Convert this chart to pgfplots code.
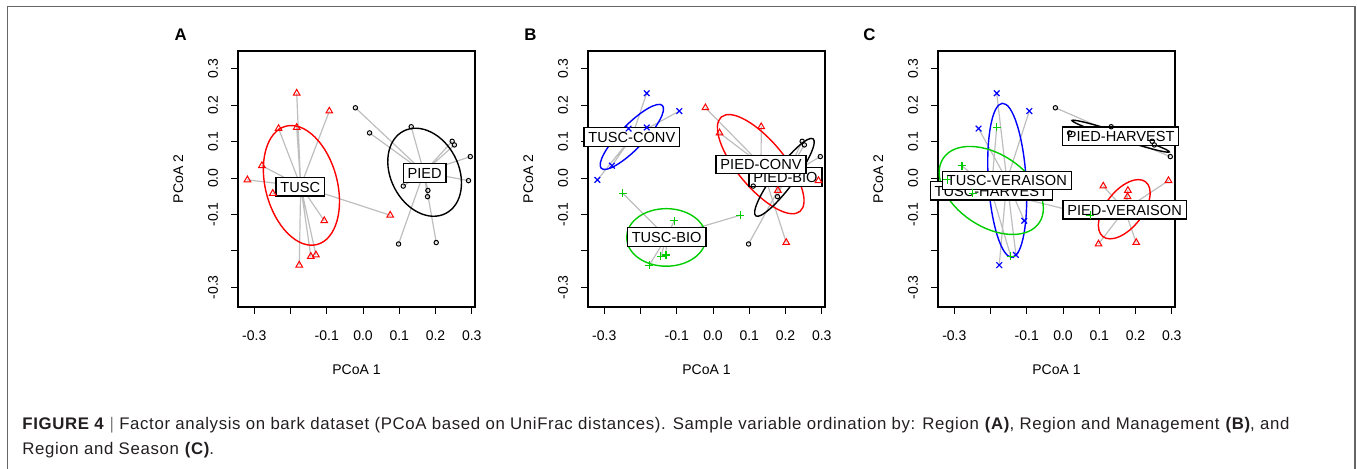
\documentclass[border=0pt]{standalone}
\usepackage{fontspec}
\setmainfont{Liberation Sans}
\newfontfamily\capfont[LetterSpace=3.8]{Liberation Sans}
\usepackage{pgfplots}
\pgfplotsset{compat=1.18}
\definecolor{sgray}{HTML}{BEBEBE}
\definecolor{rgreen}{RGB}{0,205,0}
\definecolor{capgray}{HTML}{231F20}
\pgfplotsset{
 pcoa/.style={
  scale only axis, width=118.5pt, height=128pt, anchor=south west, clip=false,
  xmin=-0.345, xmax=0.309, ymin=-0.354, ymax=0.349,
  xtick={-0.3,-0.2,-0.1,0,0.1,0.2,0.3}, xticklabels={-0.3,,-0.1,0.0,0.1,0.2,0.3},
  ytick={-0.3,-0.2,-0.1,0,0.1,0.2,0.3}, yticklabels={-0.3,,-0.1,0.0,0.1,0.2,0.3},
  xtick pos=left, ytick pos=left,
  tick align=outside, major tick length=3.5pt,
  axis line style={line width=0.65pt},
  every tick/.append style={line width=0.5pt, black},
  tick label style={font=\fontsize{7}{8}\selectfont, inner sep=0pt},
  xticklabel style={anchor=north},
  yticklabel style={rotate=90, anchor=south},
  xticklabel shift=8pt, yticklabel shift=6.35pt,
 },
 spider/.style={sgray, line width=0.6pt, line join=round, no markers},
 ell/.style={line width=0.7pt, smooth cycle, tension=0.68, no markers},
 tri/.style={only marks, red, mark=triangle, mark size=1.9pt, mark options={line width=0.5pt}},
 circ/.style={only marks, black, mark=o, mark size=1.1pt, mark options={line width=0.5pt}},
 crs/.style={only marks, blue, mark=x, mark size=2pt, mark options={line width=0.6pt}},
 pls/.style={only marks, rgreen, mark=+, mark size=2pt, mark options={line width=0.6pt}},
}
\tikzset{lbl/.style={draw=black, fill=white, line width=0.6pt, font=\fontsize{7.3}{8}\selectfont,
  inner xsep=2.2pt, inner ysep=2pt, text height=5.25pt, text depth=0pt}}
\begin{document}
\begin{tikzpicture}
\path[use as bounding box] (0,0) rectangle (678.5pt,234.5pt);
\draw[black!60, line width=0.75pt] (3.75pt,0) -- (3.75pt,231.25pt) -- (677.5pt,231.25pt) -- (677.5pt,0);

% ---------------- Panel A ----------------
\begin{axis}[pcoa, at={(119pt,81pt)}]
\addplot[spider] coordinates {(-0.172,-0.022) (-0.183,0.233) (-0.172,-0.022) (-0.093,0.184) (-0.172,-0.022) (-0.233,0.136) (-0.172,-0.022) (-0.183,0.139) (-0.172,-0.022) (-0.279,0.034) (-0.172,-0.022) (-0.319,-0.005) (-0.172,-0.022) (-0.249,-0.042) (-0.172,-0.022) (-0.107,-0.117) (-0.172,-0.022) (0.075,-0.102) (-0.172,-0.022) (-0.144,-0.215) (-0.172,-0.022) (-0.130,-0.211) (-0.172,-0.022) (-0.176,-0.239)};
\addplot[spider] coordinates {(0.168,0.016) (-0.021,0.193) (0.168,0.016) (0.018,0.124) (0.168,0.016) (0.133,0.141) (0.168,0.016) (0.246,0.101) (0.168,0.016) (0.252,0.091) (0.168,0.016) (0.296,0.059) (0.168,0.016) (0.291,-0.007) (0.168,0.016) (0.111,-0.022) (0.168,0.016) (0.179,-0.034) (0.168,0.016) (0.178,-0.051) (0.168,0.016) (0.098,-0.181) (0.168,0.016) (0.202,-0.177)};
\addplot[ell, red] coordinates {(-0.2135,0.1423) (-0.1332,0.1129) (-0.0744,0.0056) (-0.0716,-0.1167) (-0.1265,-0.1823) (-0.2068,-0.1529) (-0.2656,-0.0456) (-0.2684,0.0767)};
\addplot[ell, black] coordinates {(0.1115,0.1289) (0.1875,0.1263) (0.2532,0.0591) (0.2702,-0.0334) (0.2285,-0.0969) (0.1525,-0.0943) (0.0868,-0.0271) (0.0698,0.0654)};
\addplot[tri] coordinates {(-0.183,0.233) (-0.093,0.184) (-0.233,0.136) (-0.183,0.139) (-0.279,0.034) (-0.319,-0.005) (-0.249,-0.042) (-0.107,-0.117) (0.075,-0.102) (-0.144,-0.215) (-0.130,-0.211) (-0.176,-0.239)};
\addplot[circ] coordinates {(-0.021,0.193) (0.018,0.124) (0.133,0.141) (0.246,0.101) (0.252,0.091) (0.296,0.059) (0.291,-0.007) (0.111,-0.022) (0.179,-0.034) (0.178,-0.051) (0.098,-0.181) (0.202,-0.177)};
\node[lbl] at (axis cs:-0.173,-0.024) {TUSC};
\node[lbl] at (axis cs:0.170,0.014) {PIED};
\end{axis}

% ---------------- Panel B ----------------
\begin{axis}[pcoa, at={(294pt,81pt)}]
\addplot[spider] coordinates {(-0.224,0.113) (-0.183,0.233) (-0.224,0.113) (-0.093,0.184) (-0.224,0.113) (-0.233,0.136) (-0.224,0.113) (-0.183,0.139) (-0.224,0.113) (-0.279,0.034) (-0.224,0.113) (-0.319,-0.005)};
\addplot[spider] coordinates {(-0.128,-0.162) (-0.249,-0.042) (-0.128,-0.162) (-0.107,-0.117) (-0.128,-0.162) (0.075,-0.102) (-0.128,-0.162) (-0.144,-0.215) (-0.128,-0.162) (-0.130,-0.211) (-0.128,-0.162) (-0.176,-0.239)};
\addplot[spider] coordinates {(0.1325,0.0375) (-0.021,0.193) (0.1325,0.0375) (0.018,0.124) (0.1325,0.0375) (0.133,0.141) (0.1325,0.0375) (0.291,-0.007) (0.1325,0.0375) (0.179,-0.034) (0.1325,0.0375) (0.202,-0.177)};
\addplot[spider] coordinates {(0.199,0.002) (0.246,0.101) (0.199,0.002) (0.252,0.091) (0.199,0.002) (0.296,0.059) (0.199,0.002) (0.111,-0.022) (0.199,0.002) (0.178,-0.051) (0.199,0.002) (0.098,-0.181)};
\addplot[ell, blue] coordinates {(-0.1398,0.1994) (-0.1812,0.1903) (-0.2476,0.1360) (-0.3002,0.0682) (-0.3082,0.0266) (-0.2668,0.0357) (-0.2004,0.0900) (-0.1478,0.1578)};
\addplot[ell, rgreen] coordinates {(-0.0195,-0.163) (-0.0516,-0.1071) (-0.129,-0.084) (-0.2064,-0.1071) (-0.2385,-0.163) (-0.2064,-0.2189) (-0.129,-0.242) (-0.0516,-0.2189)};
\addplot[ell, red] coordinates {(0.0230,0.1678) (0.0900,0.1594) (0.1814,0.0800) (0.2436,-0.0239) (0.2402,-0.0914) (0.1732,-0.0830) (0.0818,-0.0036) (0.0196,0.0999)};
\addplot[ell, black] coordinates {(0.2761,0.1077) (0.2371,0.0886) (0.1746,0.0188) (0.1252,-0.0609) (0.1179,-0.1037) (0.1569,-0.0846) (0.2194,-0.0148) (0.2688,0.0649)};
\addplot[crs] coordinates {(-0.183,0.233) (-0.093,0.184) (-0.233,0.136) (-0.183,0.139) (-0.279,0.034) (-0.319,-0.005)};
\addplot[pls] coordinates {(-0.249,-0.042) (-0.107,-0.117) (0.075,-0.102) (-0.144,-0.215) (-0.130,-0.211) (-0.176,-0.239)};
\addplot[tri] coordinates {(-0.021,0.193) (0.018,0.124) (0.133,0.141) (0.291,-0.007) (0.179,-0.034) (0.202,-0.177)};
\addplot[circ] coordinates {(0.246,0.101) (0.252,0.091) (0.296,0.059) (0.111,-0.022) (0.178,-0.051) (0.098,-0.181)};
\node[lbl] at (axis cs:-0.224,0.113) {TUSC-CONV};
\node[lbl] at (axis cs:-0.128,-0.162) {TUSC-BIO};
\node[lbl] at (axis cs:0.200,0.003) {PIED-BIO};
\node[lbl] at (axis cs:0.1325,0.0375) {PIED-CONV};
\end{axis}

% ---------------- Panel C ----------------
\begin{axis}[pcoa, at={(469pt,81pt)}]
\addplot[spider] coordinates {(-0.155,-0.006) (-0.183,0.233) (-0.155,-0.006) (-0.093,0.184) (-0.155,-0.006) (-0.233,0.136) (-0.155,-0.006) (-0.107,-0.117) (-0.155,-0.006) (-0.130,-0.211) (-0.155,-0.006) (-0.176,-0.239)};
\addplot[spider] coordinates {(-0.198,-0.035) (-0.183,0.139) (-0.198,-0.035) (-0.279,0.034) (-0.198,-0.035) (-0.319,-0.005) (-0.198,-0.035) (-0.249,-0.042) (-0.198,-0.035) (0.075,-0.102) (-0.198,-0.035) (-0.144,-0.215)};
\addplot[spider] coordinates {(0.159,0.115) (-0.021,0.193) (0.159,0.115) (0.018,0.124) (0.159,0.115) (0.133,0.141) (0.159,0.115) (0.246,0.101) (0.159,0.115) (0.252,0.091) (0.159,0.115) (0.296,0.059)};
\addplot[spider] coordinates {(0.170,-0.087) (0.291,-0.007) (0.170,-0.087) (0.111,-0.022) (0.170,-0.087) (0.179,-0.034) (0.170,-0.087) (0.178,-0.051) (0.170,-0.087) (0.098,-0.181) (0.170,-0.087) (0.202,-0.177)};
\addplot[ell, blue] coordinates {(-0.1673,0.2053) (-0.1266,0.1457) (-0.1019,-0.0027) (-0.1078,-0.1531) (-0.1407,-0.2173) (-0.1814,-0.1577) (-0.2061,-0.0093) (-0.2002,0.1411)};
\addplot[ell, rgreen] coordinates {(-0.3308,0.0539) (-0.2531,0.0868) (-0.1431,0.0489) (-0.0653,-0.0375) (-0.0652,-0.1219) (-0.1429,-0.1548) (-0.2529,-0.1169) (-0.3307,-0.0305)};
\addplot[ell, black] coordinates {(0.2934,0.0718) (0.2560,0.0905) (0.1618,0.1236) (0.0660,0.1516) (0.0246,0.1582) (0.0620,0.1395) (0.1562,0.1064) (0.2520,0.0784)};
\addplot[ell, red] coordinates {(0.2281,-0.0105) (0.1825,-0.0102) (0.1290,-0.0540) (0.0989,-0.1163) (0.1099,-0.1605) (0.1555,-0.1608) (0.2090,-0.1170) (0.2391,-0.0547)};
\addplot[crs] coordinates {(-0.183,0.233) (-0.093,0.184) (-0.233,0.136) (-0.107,-0.117) (-0.130,-0.211) (-0.176,-0.239)};
\addplot[pls] coordinates {(-0.183,0.139) (-0.279,0.034) (-0.319,-0.005) (-0.249,-0.042) (0.075,-0.102) (-0.144,-0.215)};
\addplot[circ] coordinates {(-0.021,0.193) (0.018,0.124) (0.133,0.141) (0.246,0.101) (0.252,0.091) (0.296,0.059)};
\addplot[tri] coordinates {(0.291,-0.007) (0.111,-0.022) (0.179,-0.034) (0.178,-0.051) (0.098,-0.181) (0.202,-0.177)};
\node[lbl] at (axis cs:-0.198,-0.035) {TUSC-HARVEST};
\node[lbl] at (axis cs:-0.155,-0.007) {TUSC-VERAISON};
\node[lbl] at (axis cs:0.159,0.115) {PIED-HARVEST};
\node[lbl] at (axis cs:0.170,-0.087) {PIED-VERAISON};
\end{axis}

% panel letters and axis titles
\foreach \lx/\lt in {90.35/A, 265.2/B, 434.7/C} {
  \node[font=\bfseries\fontsize{8.4}{9}\selectfont] at (\lx pt,217pt) {\lt};
}
\foreach \dx in {0,175,350} {
  \node[font=\fontsize{7}{8}\selectfont] at (178.25pt+\dx pt,49.5pt) {PCoA 1};
  \node[font=\fontsize{7}{8}\selectfont, rotate=90] at (89.15pt+\dx pt,145pt) {PCoA 2};
}
% caption
\node[anchor=base west, inner sep=0pt, font=\capfont\fontsize{8.4}{9}\selectfont, text=capgray] at (11pt,19.75pt)
 {\textbf{FIGURE 4} {\color{gray}|} Factor analysis on bark dataset (PCoA based on UniFrac distances). Sample variable ordination by: Region \textbf{(A)}, Region and Management \textbf{(B)}, and};
\node[anchor=base west, inner sep=0pt, font=\capfont\fontsize{8.4}{9}\selectfont, text=capgray] at (11pt,7.25pt)
 {Region and Season \textbf{(C)}.};
\end{tikzpicture}
\end{document}
